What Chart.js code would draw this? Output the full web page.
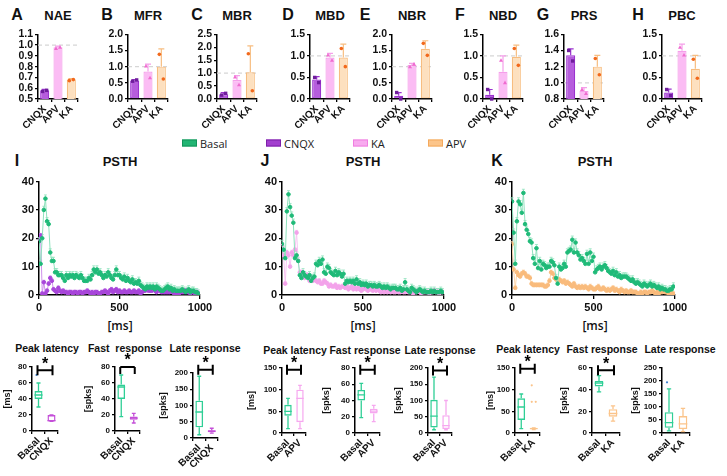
<!DOCTYPE html>
<html>
<head>
<meta charset="utf-8">
<script src="https://cdn.jsdelivr.net/npm/chart.js"></script>
<style>
  body { margin:0; width:727px; height:476px; position:relative; overflow:hidden; background:#fff; font-family:"Liberation Sans", Arial, sans-serif; }
  canvas { position:absolute; }
  .lbl { position:absolute; transform:translate(-50%,-50%); white-space:pre; font-weight:bold; color:#111; }
  .letter { font-size:16px; }
  .ttl { font-size:13px; }
  .sub { font-size:10.5px; }
  .ms { font-family:"Open Sans", sans-serif; font-size:12px; font-weight:600; }
  .leg { position:absolute; display:flex; align-items:center; font-family:"Open Sans", sans-serif; font-size:11px; color:#222; transform:translateY(-50%); }
  .leg i { display:inline-block; width:13px; height:5px; margin-right:3px; border:1px solid; }
</style>
</head>
<body>
<script>
// ---------- top row: parameters normalised to basal ----------
const drugs = ['CNQX', 'APV', 'KA'];
const barNames = ['NAE', 'MFR', 'MBR', 'MBD', 'NBR', 'NBD', 'PRS', 'PBC'];
const barLetters = ['A', 'B', 'C', 'D', 'E', 'F', 'G', 'H'];
const barMean = [
  [0.58, 0.98, 0.68],
  [0.57, 0.85, 1.00],
  [0.18, 0.73, 1.03],
  [0.45, 0.96, 0.96],
  [0.10, 1.05, 1.55],
  [0.10, 0.63, 0.98],
  [1.34, 0.90, 1.20],
  [0.15, 1.12, 0.70]
];
const barErrTop = [
  [0.59, 0.99, 0.69],
  [0.60, 1.08, 1.55],
  [0.25, 0.90, 2.05],
  [0.52, 1.06, 1.27],
  [0.20, 1.10, 1.80],
  [0.22, 1.00, 1.25],
  [1.42, 0.94, 1.34],
  [0.23, 1.27, 1.01]
];
const barDotA = [
  [0.57, 0.97, 0.67],
  [0.55, 1.02, 1.38],
  [0.15, 0.85, 1.75],
  [0.50, 1.02, 1.17],
  [0.20, 1.00, 1.72],
  [0.22, 0.90, 1.17],
  [1.40, 0.92, 1.30],
  [0.22, 1.20, 0.92]
];
const barDotB = [
  [0.58, 0.98, 0.68],
  [0.59, 0.66, 0.62],
  [0.22, 0.55, 0.32],
  [0.38, 0.90, 0.75],
  [0.00, 1.08, 1.35],
  [0.00, 0.38, 0.78],
  [1.27, 0.87, 1.10],
  [0.08, 1.02, 0.48]
];
const barTicks = [[0.5, 1.1, 0.1], [0, 2, 0.5], [0, 2.5, 0.5], [0, 1.5, 0.5], [0, 2, 0.5], [0, 1.5, 0.5], [0.8, 1.6, 0.2], [0, 1.5, 0.5]];
const barAxisX = [38, 128, 217, 310, 392, 483, 564, 662];

// ---------- PSTH (10 ms bins) ----------
const bins = Array.from({ length: 100 }, (_, i) => i * 10);
const psthI_basal = [19,11,20,30,34,26,25,15,12,12, 8,8,7,7,7,6,5,7,6,7, 6.5,7,6,7,6.5,6,7,6,5,5,
  5,6,5.5,7,9,8,9,7.5,8,7, 6,7,6.5,8,7,6,5.5,7,9,7, 7,6,5.5,6.5,5,6,5,4.5,5.5,4,
  4.5,4,5,3.5,3,2.5,2,3,2.5,3, 2.5,3,2,3,2.5,2,1.5,1.5,2,2.5, 3,2,2.5,1.5,2,1.5,1.5,1.5,1.5,2,
  1.5,1,1.5,2,1,1.5,1.5,1,1,0.5];
const psthI_cnqx = [19,21,0.5,4.5,0.5,1.5,4,6,5,2, 1.5,1,2.5,1.5,1,1.5,1,1,0.5,1, 1,0.5,1,1,0.5,1,1,0.5,1,1,
  1.5,1,0.5,1,0.5,1,1,0.5,0.5,1, 1,1.5,1,0.5,1.5,2,1,1.5,2,1, 1.5,1,1,1.5,1,1,1.5,1,1,1.5,
  1,1,1.5,0.5,1,1.5,1.5,2,1.5,1.5, 1.5,2,1.5,1,2,1.5,1,1,1,1, 1,1,1.5,1,0.5,0.5,1,0.5,1,1,
  1,1.5,1,1,0.5,1,1,0.5,1,0.5];
const psthJ_basal = [18,16,13,29.5,35.5,31,28,25.5,13,14, 12,7,6,8,7,6.5,6,7,5,6, 6.5,11,10.5,12,11,12.5,8,7.5,10,9.5,
  8,7.5,7,8.5,7,8,7.5,6.5,7.5,4, 5,4.5,5,4.5,5,4,5.5,4,4.5,3.5, 4,3.5,4,3,3.5,3.5,3,3.5,3,3,
  3.5,3,2.5,3,2.5,3,2.5,2,2.5,2.5, 2.5,2,2,2.5,1.5,2,4.5,2,1.5,1, 2.5,2,1.5,1,1.5,2,1.5,1,1.5,1,
  1,1,1.5,1,1.5,1,1,1,1.5,1];
const psthJ_apv = [17,14,4,15,14,10,15,14,16,22, 12,8,8,7,6,7,7,5,6,5, 5.5,5,4.5,5,4,4,5,4.5,4,3,
  3.5,3,3,3.5,2.5,3,2.5,3,3,2.5, 3,2,2.5,3,2,2.5,2,2.5,2,1.5, 2,2.5,2,1.5,2,2,1.5,2,1.5,2,
  1.5,1,1.5,1,1.5,1,1.5,1,1.5,1, 1,1.5,1,1,1.5,1,1,1.5,1,1, 1,0.5,1,1,1.5,1,0.5,1,1,1,
  1,0.5,1,1,1.5,1,1,0.5,1,1];
const psthK_basal = [33,22,11,26,33,32,29,36,25,23, 21.5,19,18.5,13,11,16.5,9.5,12,9,11, 10.5,9.5,10,10,12,11.5,10.5,6,4,10,
  9,9.5,11,10,15,15.5,16,19.5,15,18.5, 15,14,12.5,13,12,11,14.5,11,15,12, 13.5,8,9,9.5,10,9,10,10.5,9.5,8.5,
  8,7.5,8.5,7,8,6.5,7,6,6.5,6.5, 6.5,6,5.5,5,5.5,4.5,4,4.5,4,3.5, 3,4,3.5,3,3.5,4,3,3.5,3,2.5,
  3,2,2.5,2,2,1.5,1.5,2,2,3];
const psthK_ka = [18,9,2.5,8,7,6.5,7.5,8,7.5,6.5, 6.5,6,4,3.5,3.5,3.5,3.5,3.5,3.5,3.5, 3,3,3.5,5,8,7.5,6,5.5,5,5.5,
  5,4.5,5,4,4.5,4,3.5,3,4,3, 2.5,3,2.5,3,2.5,3,2.5,2,3,2.5, 2,2,2.5,3,2,2,2.5,2,1.5,2,
  1.5,2,2.5,1.5,2,1.5,1,2,1.5,1, 1.5,1,1,1.5,1,1,1,0.5,0.5,1, 0.5,1,1,0.5,1,1,1.5,1,0.5,1,
  0.5,1,1,1.5,1,1,0.5,1,0.5,0.5];

// ---------- box plots: [min, q1, median, q3, max] ----------
const peakI = [[30, 40, 45, 50, 60], [12, 12, 13, 20, 20]];
const fastI = [[18, 40, 55, 58, 70], [10, 14, 16, 18, 22]];
const lateI = [[10, 33, 80, 115, 190], [15, 18, 21, 24, 30]];
const peakJ = [[10, 40, 50, 65, 80], [10, 25, 80, 100, 110]];
const fastJ = [[19, 40, 47, 53, 61], [14, 24, 27, 30, 34]];
const lateJ = [[10, 17, 52, 102, 172], [10, 12, 23, 55, 100]];
const peakK = [[10, 30, 60, 80, 90], [8, 10, 10, 12, 12]];
const fastK = [[38, 43, 46, 48, 53], [11, 15, 18, 22, 25]];
const lateK = [[8, 20, 40, 80, 170], [5, 15, 35, 65, 95]];
const peakIOut = [[70], []];
const peakKOut = [[], [110, 72, 72]];
const lateKOut = [[195], []];

const GREEN = '#2fcf96', PURPLE = '#c44fd8', PINK = '#f6a8ef', ORANGE = '#fbc48a';

Chart.defaults.font.family = '"Liberation Sans", Arial, sans-serif';
Chart.defaults.font.weight = 'bold';
Chart.defaults.color = '#111';
Chart.defaults.animation = false;

function addText(txt, x, y, cls) {
  const d = document.createElement('div');
  d.className = 'lbl ' + cls;
  d.textContent = txt;
  d.style.left = x + 'px';
  d.style.top = y + 'px';
  document.body.appendChild(d);
}

function mk(b, yW, xH, padR, padT, config) {
  const c = document.createElement('canvas');
  const w = b.x1 - b.x0 + yW + padR, h = b.y1 - b.y0 + padT + xH;
  c.width = w; c.height = h;
  c.style.left = (b.x0 - yW) + 'px';
  c.style.top = (b.y0 - padT) + 'px';
  c.style.width = w + 'px'; c.style.height = h + 'px';
  document.body.appendChild(c);
  const o = config.options;
  o.responsive = false;
  o.layout = { padding: { top: padT, right: padR, left: 0, bottom: 0 } };
  o.scales.x.afterFit = s => { s.height = xH; };
  o.scales.y.afterFit = s => { s.width = yW; };
  o.plugins = o.plugins || {};
  o.plugins.legend = { display: false };
  o.plugins.tooltip = { enabled: false };
  return new Chart(c, config);
}

function yAxis(min, max, step, size, fmt) {
  return {
    min, max,
    ticks: { stepSize: step, font: { size }, padding: 2, autoSkip: false, callback: fmt || (v => v) },
    grid: { drawOnChartArea: false, drawTicks: true, tickLength: 3, color: '#000', lineWidth: 1.3 },
    border: { color: '#000', width: 1.5 }
  };
}
function xCatAxis(size) {
  return {
    ticks: { font: { size }, minRotation: 45, maxRotation: 45, padding: 1, autoSkip: false },
    grid: { drawOnChartArea: false, drawTicks: true, tickLength: 3, color: '#000', lineWidth: 1.3 },
    border: { color: '#000', width: 1.5 }
  };
}

// ----- plugins drawing extras through the chart scales -----
const barExtras = {
  id: 'barExtras',
  beforeDatasetsDraw(chart) {
    const { ctx, chartArea: a, scales: { y } } = chart;
    const py = y.getPixelForValue(1);
    ctx.save();
    ctx.setLineDash([4, 3]);
    ctx.strokeStyle = '#d6d6d6';
    ctx.lineWidth = 1.3;
    ctx.beginPath(); ctx.moveTo(a.left, py); ctx.lineTo(a.right, py); ctx.stroke();
    ctx.restore();
  },
  afterDatasetsDraw(chart, args, o) {
    const { ctx, scales: { x, y } } = chart;
    ctx.save();
    o.mean.forEach((m, i) => {
      const px = x.getPixelForValue(i);
      const top = y.getPixelForValue(o.err[i]), base = y.getPixelForValue(m);
      ctx.strokeStyle = o.edge[i]; ctx.lineWidth = 1.2;
      ctx.beginPath();
      ctx.moveTo(px, base); ctx.lineTo(px, top);
      ctx.moveTo(px - 3, top); ctx.lineTo(px + 3, top);
      ctx.stroke();
      ctx.fillStyle = o.dot[i];
      [[o.a[i], -2], [o.b[i], 2]].forEach(([v, dx]) => {
        const cx = px + dx, cy = y.getPixelForValue(v);
        ctx.beginPath();
        if (i === 0) ctx.rect(cx - 1.7, cy - 1.7, 3.4, 3.4);
        else if (i === 1) { ctx.moveTo(cx, cy - 2); ctx.lineTo(cx + 2, cy + 1.6); ctx.lineTo(cx - 2, cy + 1.6); ctx.closePath(); }
        else ctx.arc(cx, cy, 1.8, 0, Math.PI * 2);
        ctx.fill();
      });
    });
    ctx.restore();
  }
};

const psthErr = {
  id: 'psthErr',
  beforeDatasetsDraw(chart, args, o) {
    const { ctx, scales: { y } } = chart;
    ctx.save();
    chart.data.datasets.forEach((ds, k) => {
      const meta = chart.getDatasetMeta(k);
      ctx.strokeStyle = ds.borderColor; ctx.lineWidth = 0.8;
      ctx.beginPath();
      meta.data.forEach((el, i) => {
        const t = y.getPixelForValue(ds.data[i].y + o.err[k]);
        ctx.moveTo(el.x, el.y); ctx.lineTo(el.x, t);
        ctx.moveTo(el.x - 1.5, t); ctx.lineTo(el.x + 1.5, t);
      });
      ctx.stroke();
    });
    ctx.restore();
  }
};

const boxDraw = {
  id: 'boxDraw',
  afterDatasetsDraw(chart, args, o) {
    const { ctx, scales: { x, y } } = chart;
    const bars = chart.getDatasetMeta(0).data;
    ctx.save();
    o.stats.forEach((s, i) => {
      const px = x.getPixelForValue(i), hw = bars[i].width / 2;
      const [mn, q1, md, q3, mx] = s.map(v => y.getPixelForValue(v));
      ctx.strokeStyle = o.colors[i]; ctx.lineWidth = 1.3;
      ctx.beginPath();
      ctx.moveTo(px, q1); ctx.lineTo(px, mn);
      ctx.moveTo(px, q3); ctx.lineTo(px, mx);
      ctx.moveTo(px - hw / 2, mn); ctx.lineTo(px + hw / 2, mn);
      ctx.moveTo(px - hw / 2, mx); ctx.lineTo(px + hw / 2, mx);
      ctx.moveTo(px - hw, md); ctx.lineTo(px + hw, md);
      ctx.stroke();
      ctx.fillStyle = i === 0 ? '#3a7fd0' : o.colors[i];
      ((o.out || [])[i] || []).forEach((v, k) => {
        ctx.beginPath();
        ctx.arc(px + (k % 2 ? 2 : -2), y.getPixelForValue(v), 1.1, 0, Math.PI * 2);
        ctx.fill();
      });
    });
    if (o.sig) {
      const by = y.getPixelForValue(o.sig[1]);
      const xa = x.getPixelForValue(0) - 1, xb = x.getPixelForValue(1) + 1;
      ctx.strokeStyle = '#000'; ctx.lineWidth = 2;
      ctx.beginPath();
      ctx.moveTo(xa, by); ctx.lineTo(xb, by);
      if (o.sig[0] === 'H') {
        ctx.moveTo(xa, by - 5); ctx.lineTo(xa, by + 5);
        ctx.moveTo(xb, by - 5); ctx.lineTo(xb, by + 5);
      } else {
        ctx.moveTo(xa, by); ctx.lineTo(xa, by + 7);
        ctx.moveTo(xb, by); ctx.lineTo(xb, by + 7);
      }
      ctx.stroke();
      ctx.fillStyle = '#000';
      ctx.font = 'bold 16px "Liberation Sans", Arial, sans-serif';
      ctx.textAlign = 'center'; ctx.textBaseline = 'middle';
      ctx.fillText('*', (xa + xb) / 2, by - 6);
    }
    ctx.restore();
  }
};

// ----- top row bar charts -----
const barFill = ['#b65ddd', '#fbbcf4', '#fde0bf'];
const barEdge = ['#9b33cf', '#f59fea', '#f7bd80'];
const dotColor = ['#6f1d9c', '#ef6bcf', '#f2691c'];

barNames.forEach((name, k) => {
  const ax = barAxisX[k];
  const [mn, mx, st] = barTicks[k];
  addText(barLetters[k], [17, 107, 197, 288, 365, 460, 543, 638][k], 15, 'letter');
  addText(name, ax + 20, 15, 'ttl');
  mk({ x0: ax, x1: ax + 40, y0: 34, y1: 99 }, 28, 36, 4, 8, {
    type: 'bar',
    data: { labels: drugs, datasets: [{ data: barMean[k], backgroundColor: barFill, borderColor: barEdge, borderWidth: 1.2, borderSkipped: false, barPercentage: 0.68, categoryPercentage: 1 }] },
    options: {
      scales: { x: xCatAxis(10), y: yAxis(mn, mx, st, 10.5, v => v.toFixed(1)) },
      plugins: { barExtras: { mean: barMean[k], err: barErrTop[k], a: barDotA[k], b: barDotB[k], edge: barEdge, dot: dotColor } }
    },
    plugins: [barExtras]
  });
});

// ----- legend -----
[['Basal', '#22b573', '#12935a', 182], ['CNQX', '#a33fcf', '#7d1fa8', 266], ['KA', '#f8aaef', '#f07ee0', 353], ['APV', '#fcc58a', '#f4a95c', 428]].forEach(([t, f, e, x]) => {
  const d = document.createElement('div');
  d.className = 'leg';
  d.style.left = x + 'px'; d.style.top = '143px';
  d.innerHTML = '<i style="background:' + f + ';border-color:' + e + '"></i>' + t;
  document.body.appendChild(d);
});

// ----- PSTH charts -----
function psth(b, series, letter, lx, tx) {
  addText(letter, lx, 161, 'letter');
  addText('PSTH', tx, 161, 'ttl');
  addText('[ms]', tx, 325, 'ms');
  mk(b, 30, 22, 16, 8, {
    type: 'line',
    data: {
      datasets: series.map(s => ({
        data: bins.map((t, i) => ({ x: t, y: s.v[i] })),
        borderColor: s.line, backgroundColor: s.pt, pointBackgroundColor: s.pt, pointBorderColor: s.pt,
        pointRadius: 1.8, borderWidth: 1, tension: 0
      }))
    },
    options: {
      scales: {
        x: { type: 'linear', min: 0, max: 1000, ticks: { stepSize: 500, font: { size: 11 }, padding: 2, callback: v => String(v) },
             grid: { drawOnChartArea: false, drawTicks: true, tickLength: 4, color: '#000', lineWidth: 1.3 }, border: { color: '#000', width: 1.5 } },
        y: yAxis(0, 40, 10, 11)
      },
      plugins: { psthErr: { err: series.map(s => s.err) } }
    },
    plugins: [psthErr]
  });
}
psth({ x0: 39, x1: 200, y0: 181, y1: 295 }, [
  { v: psthI_basal, line: '#8fe2bd', pt: '#1fba78', err: 1.3 },
  { v: psthI_cnqx, line: '#cf92ec', pt: '#a846da', err: 0.7 }
], 'I', 17, 120);
psth({ x0: 282, x1: 444, y0: 181, y1: 295 }, [
  { v: psthJ_basal, line: '#8fe2bd', pt: '#1fba78', err: 1.3 },
  { v: psthJ_apv, line: '#f8c4f2', pt: '#f3a2ea', err: 0.8 }
], 'J', 265, 363);
psth({ x0: 512, x1: 675, y0: 181, y1: 295 }, [
  { v: psthK_basal, line: '#8fe2bd', pt: '#1fba78', err: 1.3 },
  { v: psthK_ka, line: '#fcd5ab', pt: '#f9bb7c', err: 0.8 }
], 'K', 497, 595);

// ----- box plots -----
function box(b, yW, title, tx, ty, stats, cats, colors, ticks, yTitle, sig, out) {
  addText(title, tx, ty, 'sub');
  const ya = yAxis(ticks[0], ticks[1], ticks[2], 8);
  ya.title = { display: true, text: yTitle, font: { size: 9 }, padding: { top: 2, bottom: 2 } };
  mk(b, yW, 40, 6, 22, {
    type: 'bar',
    data: { labels: cats, datasets: [{ data: stats.map(s => [s[1], s[3]]), backgroundColor: 'rgba(255,255,255,0)', borderColor: colors, borderWidth: 1.4, borderSkipped: false, barPercentage: 0.62, categoryPercentage: 1 }] },
    options: {
      scales: { x: xCatAxis(10), y: ya },
      plugins: { boxDraw: { stats, colors, sig, out } }
    },
    plugins: [boxDraw]
  });
}
const catI = ['Basal', 'CNQX'], catJ = ['Basal', 'APV'], catK = ['Basal', 'KA'];
box({ x0: 32, x1: 58, y0: 367, y1: 431 }, 32, 'Peak latency', 47, 348, peakI, catI, [GREEN, PURPLE], [0, 80, 20], '[ms]', ['H', 76], peakIOut);
box({ x0: 115, x1: 140, y0: 367, y1: 431 }, 34, 'Fast  response', 125, 348, fastI, catI, [GREEN, PURPLE], [0, 80, 20], '[spks]', ['D', 80]);
box({ x0: 193, x1: 218, y0: 373, y1: 438 }, 37, 'Late response', 205, 348, lateI, catI, [GREEN, PURPLE], [0, 200, 50], '[spks]', ['H', 210]);
box({ x0: 282, x1: 306, y0: 368, y1: 433 }, 38, 'Peak latency', 295, 350, peakJ, catJ, [GREEN, PINK], [0, 150, 50], '[ms]', ['H', 146]);
box({ x0: 355, x1: 380, y0: 368, y1: 433 }, 36, 'Fast response', 365, 350, fastJ, catJ, [GREEN, PINK], [0, 80, 20], '[spks]', ['H', 78]);
box({ x0: 428, x1: 452, y0: 368, y1: 433 }, 37, 'Late response', 440, 350, lateJ, catJ, [GREEN, PINK], [0, 200, 50], '[spks]', ['H', 192]);
box({ x0: 515, x1: 540, y0: 368, y1: 433 }, 32, 'Peak latency', 528, 349, peakK, catK, [GREEN, ORANGE], [0, 150, 50], '[ms]', ['H', 148], peakKOut);
box({ x0: 592, x1: 620, y0: 368, y1: 433 }, 35, 'Fast response', 602, 349, fastK, catK, [GREEN, ORANGE], [0, 60, 20], '[spks]', ['H', 58]);
box({ x0: 662, x1: 690, y0: 368, y1: 433 }, 34, 'Late response', 680, 349, lateK, catK, [GREEN, ORANGE], [0, 250, 50], '[spks]', null, lateKOut);
</script>
</body>
</html>
